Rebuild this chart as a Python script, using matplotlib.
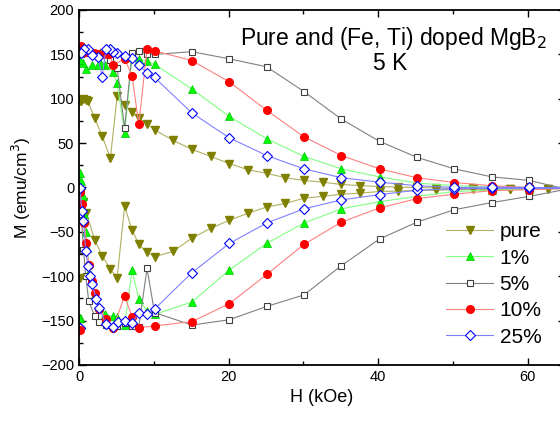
import numpy as np
import matplotlib
matplotlib.use("Agg")
import matplotlib.pyplot as plt
from matplotlib.ticker import MultipleLocator

plt.rcParams['font.family'] = ['Liberation Sans', 'DejaVu Sans']

# M-H loops at 5 K, lower branch (field up) then upper branch (field down)
h_pure = [0.3, 0.6, 1.0, 2.1, 3.1, 4.2, 5.1, 6.1, 7.1, 8.0, 9.1, 10.1, 12.6, 15.1, 17.6, 20.1,
          22.6, 25.1, 27.6, 30.1, 32.6, 35.1, 37.6, 40.2, 42.7, 45.2, 47.7, 50.2, 52.7, 55.2,
          57.7, 60.2, 62.7, 65.2,
          62.7, 60.2, 57.7, 55.2, 52.7, 50.2, 47.7, 45.2, 42.7, 40.2, 37.6, 35.1, 32.6, 30.1,
          27.6, 25.1, 22.6, 20.1, 17.6, 15.1, 12.6, 10.1, 9.1, 8.0, 7.1, 6.1, 5.1, 4.2, 3.1,
          2.1, 1.2, 0.9, 0.6, 0.3, 0.1]
m_pure = [-5, -16, -29, -59, -77, -92, -102, -21, -48, -64, -73, -78, -72, -57, -46, -37,
          -29, -22, -18, -12, -10, -7.6, -6.3, -4.5, -4, -3.5, -3, -2.5, -2, -2,
          -2, -1.5, -1.5, -1,
          -1.5, -1.5, -1.5, -1.5, -1, -1, -0.5, 0, 0.5, 1.1, 2.2, 3.4, 6, 8,
          11, 16, 20, 27, 35, 43, 53, 65, 72, 78, 85, 93, 103, 33, 58,
          78, 97, 99, 100, 98, 97]

h_1 = [0.1, 0.3, 0.5, 0.7, 0.9, 1.1, 1.4, 2.1, 2.7, 3.5, 4.5, 5.1, 6.1, 7.1, 8.0, 9.1, 10.1,
       15.1, 20.1, 25.1, 30.1, 35.1, 40.2, 45.2, 50.2, 55.2, 60.2, 65.2,
       60.2, 55.2, 50.2, 45.2, 40.2, 35.1, 30.1, 25.1, 20.1, 15.1, 10.1, 9.1, 8.0, 7.1, 6.1,
       5.1, 4.5, 3.5, 3.0, 2.5, 1.8, 1.0, 0.5, 0.1]
m_1 = [16, 7, -10, -30, -50, -68, -95, -120, -135, -143, -145, -146, -155, -93, -126, -139, -143,
       -129, -93, -63, -40, -24, -16, -10, -4.5, -3, -1.5, -1,
       0, 0.5, 2, 5, 12, 21, 35, 55, 80, 111, 139, 142, 145, 147, 61,
       118, 130, 138, 139, 138, 138, 134, 140, 144]

h_5 = [0.3, 0.6, 0.9, 1.3, 2.1, 2.7, 3.6, 5.1, 6.1, 7.1, 8.0, 9.1, 10.1, 15.1, 20.1, 25.1,
       30.1, 35.1, 40.2, 45.2, 50.2, 55.2, 60.2, 65.2,
       60.2, 55.2, 50.2, 45.2, 40.2, 35.1, 30.1, 25.1, 20.1, 15.1, 10.1, 9.1, 8.0, 7.1, 6.1,
       5.1, 4.2, 3.2, 2.3, 1.5, 0.8, 0.3]
m_5 = [-30, -70, -100, -128, -145, -152, -155, -156, -153, -156, -157, -91, -141, -155, -149, -134,
       -121, -88, -58, -39, -25, -17, -10, -2,
       8, 12, 21, 34, 52, 77, 108, 136, 145, 153, 150, 150, 154, 152, 67,
       135, 144, 153, 152, 153, 152, 150]

h_10 = [0.1, 0.4, 0.7, 1.0, 1.3, 1.7, 2.1, 2.7, 3.6, 4.6, 6.1, 7.1, 8.0, 10.1, 15.1, 20.1,
        25.1, 30.1, 35.1, 40.2, 45.2, 50.2, 55.2, 60.2, 65.2,
        60.2, 55.2, 50.2, 45.2, 40.2, 35.1, 30.1, 25.1, 20.1, 15.1, 10.1, 9.1, 8.0, 7.1, 6.1,
        4.6, 4.0, 3.3, 2.6, 2.0, 1.4, 0.8, 0.3]
m_10 = [-5, -19, -40, -63, -87, -105, -119, -137, -148, -158, -122, -146, -158, -156, -151, -131,
        -98, -64, -39, -23, -12.6, -7.5, -3.6, -2.5, -1,
        0, 2, 5.6, 11, 21, 36, 57, 87, 119, 143, 154, 156, 71, 126, 145,
        138, 150, 150, 150, 151, 153, 153, 159]

h_25 = [0.1, 0.4, 0.6, 0.9, 1.2, 1.5, 1.8, 2.3, 2.7, 3.6, 4.5, 5.2, 6.1, 7.1, 8.0, 9.1, 10.1,
        15.1, 20.1, 25.1, 30.1, 35.1, 40.2, 45.2, 50.2, 55.2, 60.2, 65.2,
        60.2, 55.2, 50.2, 45.2, 40.2, 35.1, 30.1, 25.1, 20.1, 15.1, 10.1, 9.1, 8.0, 7.1, 6.1,
        5.1, 4.6, 4.2, 3.6, 3.1, 2.5, 1.8, 1.2, 0.7, 0.3]
m_25 = [-1, -27, -38, -72, -89, -100, -109, -126, -136, -154, -157, -152, -150, -153, -141, -143, -137,
        -96, -63, -40, -24, -14, -8, -3, -1.5, -1, -1, -0.5,
        0, 0.5, 0, 2, 6, 11, 21, 36, 56, 84, 124, 129, 138, 146, 148,
        151, 153, 156, 156, 125, 147, 149, 156, 156, 152]

# stray points at zero field
h_zero = [0.15, 0.15, 0.15, 0.15]
m_zero = [-102, -147, -158, -160]

labels = ['pure', '1%', '5%', '10%', '25%']

fig = plt.figure(figsize=(5.6, 4.25), dpi=100)
ax = fig.add_axes([79/560, 60/425, 486/560, 355/425])

lw = 0.8
ax.plot(h_pure, m_pure, color='#b0b060', lw=lw, marker='v', ms=6,
        mfc='#808000', mec='#808000', label=labels[0])
ax.plot(h_1, m_1, color='#80ff80', lw=lw, marker='^', ms=6,
        mfc='#00ff00', mec='#00c000', mew=0.5, label=labels[1])
ax.plot(h_5, m_5, color='#808080', lw=lw, marker='s', ms=4.5,
        mfc='white', mec='#404040', mew=0.8, label=labels[2])
ax.plot(h_10, m_10, color='#ff8080', lw=lw, marker='o', ms=5.5,
        mfc='#ff0000', mec='#ff0000', label=labels[3])
ax.plot(h_25, m_25, color='#8080ff', lw=lw, marker='D', ms=5,
        mfc='white', mec='#0000ff', mew=0.8, label=labels[4])

zero_styles = [('v', '#808000', '#808000'), ('^', '#00ff00', '#00c000'),
               ('D', 'white', '#0000ff'), ('o', '#ff0000', '#ff0000')]
for h, m, (mk, fc, ec) in zip(h_zero, m_zero, zero_styles):
    ax.plot([h], [m], ls='none', marker=mk, ms=5.5, mfc=fc, mec=ec)

ax.set_xlim(0, 65)
ax.set_ylim(-200, 200)
ax.xaxis.set_major_locator(MultipleLocator(20))
ax.xaxis.set_minor_locator(MultipleLocator(10))
ax.yaxis.set_major_locator(MultipleLocator(50))
ax.yaxis.set_minor_locator(MultipleLocator(25))
ax.tick_params(which='both', direction='in', top=True, right=True, labelsize=10.5, width=1)
ax.tick_params(which='major', length=5)
ax.tick_params(which='minor', length=3)
for s in ax.spines.values():
    s.set_linewidth(1.3)

ax.set_xlabel('H (kOe)', fontsize=13)
ax.set_ylabel('M (emu/cm$^3$)', fontsize=12.5, labelpad=6)

ax.text(0.648, 0.92, 'Pure and (Fe, Ti) doped MgB$_2$', transform=ax.transAxes,
        ha='center', va='center', fontsize=16.5)
ax.text(0.64, 0.848, '5 K', transform=ax.transAxes, ha='center', va='center', fontsize=16.5)

ax.legend(loc='upper left', bbox_to_anchor=(436/560, 1 - 212/425),
          bbox_transform=fig.transFigure, frameon=False, fontsize=15,
          handlelength=2.25, handletextpad=0.3, labelspacing=0.35, borderpad=0)

fig.savefig('out.png', dpi=100)
